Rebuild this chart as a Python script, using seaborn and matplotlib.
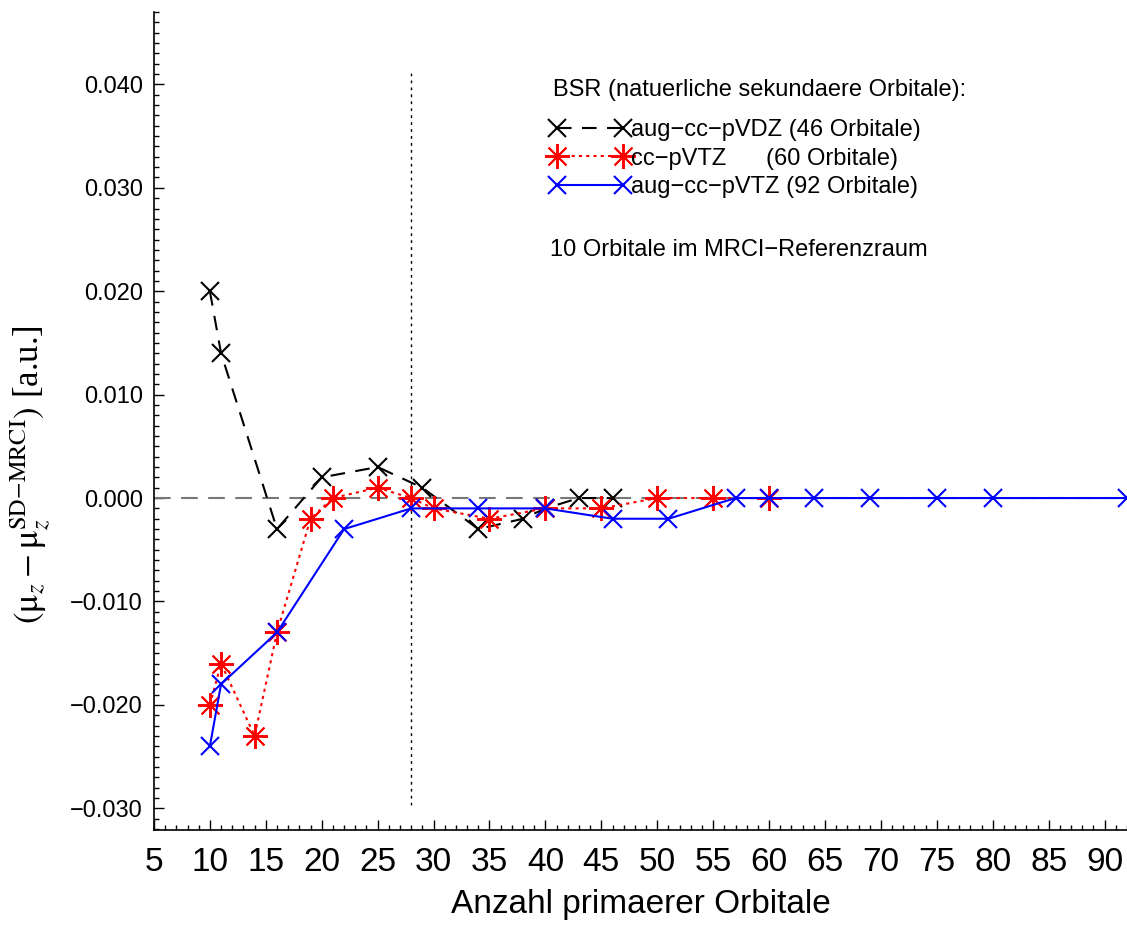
import numpy as np
import pandas as pd
import matplotlib
matplotlib.use("Agg")
import matplotlib.pyplot as plt
import seaborn as sns
from matplotlib.ticker import MultipleLocator, FuncFormatter

# Data
vdz_x = [10, 11, 16, 20, 25, 29, 34, 38, 40, 43, 46]
vdz_y = [0.020, 0.014, -0.003, 0.002, 0.003, 0.001, -0.003, -0.002, -0.001, 0.000, 0.000]

vtz_x = [10, 11, 14, 16, 19, 21, 25, 28, 30, 35, 40, 45, 50, 55, 60]
vtz_y = [-0.020, -0.016, -0.023, -0.013, -0.002, 0.000, 0.001, 0.000, -0.001,
         -0.002, -0.001, -0.001, 0.000, 0.000, 0.000]

avtz_x = [10, 11, 16, 22, 28, 34, 40, 46, 51, 57, 60, 64, 69, 75, 80, 92]
avtz_y = [-0.024, -0.018, -0.013, -0.003, -0.001, -0.001, -0.001, -0.002, -0.002,
          0.000, 0.000, 0.000, 0.000, 0.000, 0.000, 0.000]

labels = ["aug\u2212cc\u2212pVDZ (46 Orbitale)",
          "cc\u2212pVTZ      (60 Orbitale)",
          "aug\u2212cc\u2212pVTZ (92 Orbitale)"]

ref_space_x = 28

sns.set_theme(style="ticks")
plt.rcParams["font.family"] = ["Liberation Sans", "DejaVu Sans"]
plt.rcParams["mathtext.fontset"] = "stix"
for key in ["text.color", "axes.labelcolor", "xtick.color", "ytick.color", "axes.edgecolor"]:
    plt.rcParams[key] = "black"

fig = plt.figure(figsize=(11.27, 9.25), dpi=100)
ax = fig.add_axes([0.1366, 0.1027, 0.8634, 0.8843])

ax.axhline(0, color="#777777", lw=1.5, linestyle=(0, (8, 5)), zorder=1)
ax.vlines(ref_space_x, -0.0297, 0.0412, color="black", lw=1, linestyle=(0, (2, 3)), zorder=1)

sns.lineplot(x=vdz_x, y=vdz_y, ax=ax, color="black", marker="x", markersize=13,
             markeredgewidth=1.5, markeredgecolor="black", linestyle=(0, (7, 5)),
             lw=1.5, sort=False, errorbar=None, label=labels[0])
sns.lineplot(x=vtz_x, y=vtz_y, ax=ax, color="red", marker=(8, 2, 0), markersize=18,
             markeredgewidth=1.4, markeredgecolor="red", linestyle=(0, (1.5, 2)),
             lw=1.5, sort=False, errorbar=None, label=labels[1])
sns.lineplot(x=avtz_x, y=avtz_y, ax=ax, color="blue", marker="x", markersize=13,
             markeredgewidth=1.5, markeredgecolor="blue", linestyle="-",
             lw=1.5, sort=False, errorbar=None, label=labels[2])

ax.set_xlim(5, 92)
ax.set_ylim(-0.0321, 0.047)

ax.xaxis.set_major_locator(MultipleLocator(5))
ax.xaxis.set_minor_locator(MultipleLocator(1))
ax.yaxis.set_major_locator(MultipleLocator(0.01))
ax.yaxis.set_minor_locator(MultipleLocator(0.001))
ax.yaxis.set_major_formatter(FuncFormatter(lambda v, p: f"{v:.3f}".replace("-", "\u2212")))

ax.tick_params(axis="both", which="major", direction="in", length=7, width=1)
ax.tick_params(axis="both", which="minor", direction="in", length=3.5, width=1)
ax.tick_params(axis="x", labelsize=24, pad=12)
ax.tick_params(axis="y", labelsize=17, pad=8)

sns.despine(ax=ax, top=True, right=True)
for s in ["left", "bottom"]:
    ax.spines[s].set_linewidth(1.2)

ax.set_xlabel("Anzahl primaerer Orbitale", fontsize=24, labelpad=8)
ax.set_ylabel(r"$(\mathrm{\mu}_z - \mathrm{\mu}_z^{\mathrm{SD{-}MRCI}})$ [a.u.]",
              fontsize=25, family="Liberation Serif")
ax.yaxis.set_label_coords(-0.105, 0.434)

leg = ax.legend(loc="upper left", bbox_to_anchor=(0.407, 0.869), frameon=False,
                numpoints=2, handlelength=3.4, handletextpad=0.05, labelspacing=0.27,
                fontsize=17, borderaxespad=0, borderpad=0)

ax.text(0.410, 0.9046, "BSR (natuerliche sekundaere Orbitale):", transform=ax.transAxes,
        fontsize=17, ha="left", va="center")
ax.text(0.407, 0.709, "10 Orbitale im MRCI\u2212Referenzraum", transform=ax.transAxes,
        fontsize=17, ha="left", va="center")

fig.savefig("out.png", dpi=100)
